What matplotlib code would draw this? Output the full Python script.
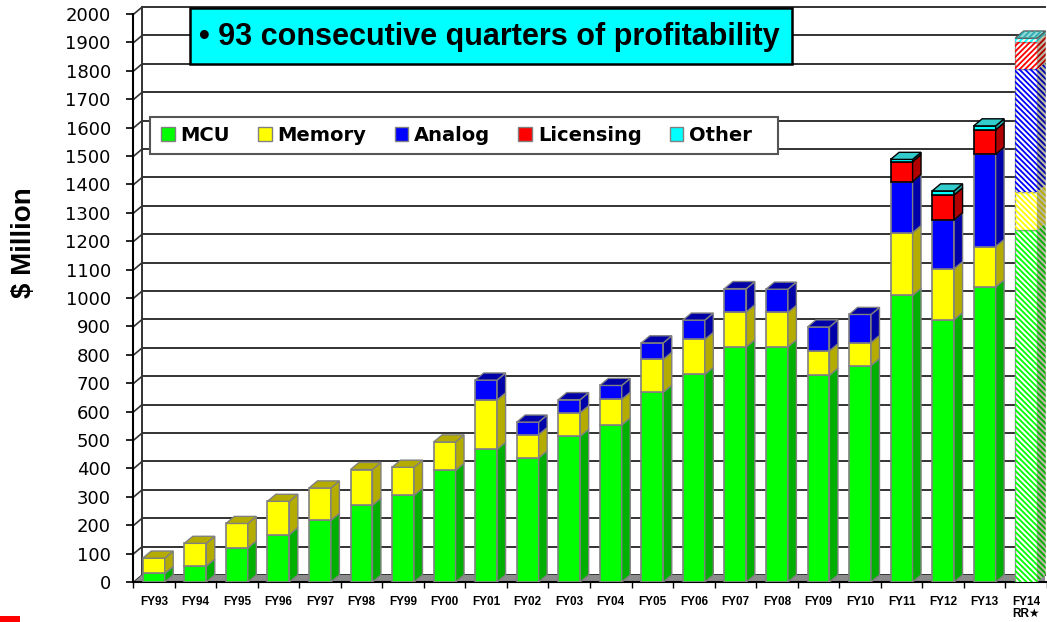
import matplotlib
matplotlib.use('Agg')
import matplotlib.pyplot as plt
from matplotlib.patches import Polygon, Rectangle, Patch

# fiscal years and revenue by product line ($M)
years = ['FY93', 'FY94', 'FY95', 'FY96', 'FY97', 'FY98', 'FY99', 'FY00', 'FY01', 'FY02', 'FY03',
         'FY04', 'FY05', 'FY06', 'FY07', 'FY08', 'FY09', 'FY10', 'FY11', 'FY12', 'FY13', 'FY14\nRR★']
mcu = [30, 56, 120, 167, 217, 270, 305, 393, 467, 437, 513,
       553, 668, 731, 828, 828, 728, 762, 1009, 924, 1039, 1239]
memory = [54, 80, 86, 117, 114, 126, 99, 100, 174, 82, 83,
          90, 116, 123, 123, 121, 86, 81, 221, 179, 142, 135]
analog = [0, 0, 0, 0, 0, 0, 0, 0, 70, 44, 46,
          49, 58, 68, 82, 82, 84, 99, 180, 172, 325, 431]
licensing = [0] * 18 + [70, 88, 86, 98]
other = [0] * 18 + [8, 14, 14, 12]

names = ['MCU', 'Memory', 'Analog', 'Licensing', 'Other']
fronts = ['#00FF00', '#FFFF00', '#0000FF', '#FF0000', '#00FFFF']
sides = ['#00B000', '#B4AC00', '#0000A8', '#B00000', '#22AAAA']
edges = ['#808080', '#808080', '#808080', '#000000', '#000000']
hatches = ['\\\\\\\\\\\\', '\\\\\\\\\\\\', '\\\\\\\\\\\\', '//////', '//////']  # FY14 (run rate) only

W, H = 1047, 622
fig = plt.figure(figsize=(W / 100, H / 100), dpi=100)
plt.rcParams['hatch.linewidth'] = 1.3


def fx(px):
    return px / W


def fy(py):
    return 1 - py / H


# front axis at x=133px, baseline at y=582px, 0.284 px per $M
ax = fig.add_axes([fx(133), fy(582), fx(W - 133), 582 / H])
x_left, x_right = -0.48, 21.455
ax.set_xlim(x_left, x_right)
ax.set_ylim(0, 582 / 0.284)

w = 0.528    # bar front width (categories)
dx = 0.204   # depth offset in x
dy = 25      # depth offset in y ($M)
n = len(years)

# back wall gridlines + side wall slants
for v in range(0, 2001, 100):
    ax.plot([x_left + dx, x_right], [v + dy, v + dy], color='#333333', lw=1.4, zorder=1)
    ax.plot([x_left, x_left + dx], [v, v + dy], color='#333333', lw=1.2, zorder=1)
ax.plot([x_left + dx, x_left + dx], [dy, 2000 + dy], color='#333333', lw=1.4, zorder=1)

# floor
ax.add_patch(Polygon([(x_left, 0), (x_right, 0), (x_right, dy), (x_left + dx, dy)],
                     closed=True, facecolor='#8c8c8c', edgecolor='none', zorder=1.5))

stack = [mcu, memory, analog, licensing, other]
for i in range(n):
    hatched = i == n - 1
    segs = [k for k in range(5) if stack[k][i] > 0]
    base = 0
    x0, x1 = i - w / 2, i + w / 2
    for j, k in enumerate(segs):
        v = stack[k][i]
        top = base + v
        side = [(x1, base), (x1 + dx, base + dy), (x1 + dx, top + dy), (x1, top)]
        if hatched:
            ax.bar(i, v, bottom=base, width=w, color='white', edgecolor='#999999', lw=1, zorder=3)
            ax.bar(i, v, bottom=base, width=w, color='none', edgecolor=fronts[k],
                   hatch=hatches[k], lw=0, zorder=3.1)
            ax.add_patch(Polygon(side, closed=True, facecolor='#b8b8a0', edgecolor=sides[k],
                                 hatch=hatches[k], lw=0, zorder=3))
        else:
            ax.bar(i, v, bottom=base, width=w, color=fronts[k], edgecolor=edges[k], lw=1.2, zorder=3)
            ax.add_patch(Polygon(side, closed=True, facecolor=sides[k], edgecolor=edges[k],
                                 lw=1.0, zorder=3))
        if j == len(segs) - 1:
            lid = [(x0, top), (x0 + dx, top + dy), (x1 + dx, top + dy), (x1, top)]
            tc = '#33CCCC' if k == 4 else sides[k]
            if hatched:
                ax.add_patch(Polygon(lid, closed=True, facecolor='#8fdcdc', edgecolor='#555555',
                                     lw=1.0, zorder=3.2))
                ax.add_patch(Polygon(lid, closed=True, facecolor='none', edgecolor='#33AAAA',
                                     hatch='//////', lw=0, zorder=3.3))
            else:
                ax.add_patch(Polygon(lid, closed=True, facecolor=tc, edgecolor=edges[k],
                                     lw=1.0, zorder=3.2))
        base = top

# axes
for s in ['top', 'right']:
    ax.spines[s].set_visible(False)
ax.spines['left'].set_bounds(0, 2000)
ax.spines['left'].set_linewidth(1.5)
ax.spines['bottom'].set_linewidth(1.5)
ax.spines['left'].set_zorder(4)
ax.spines['bottom'].set_zorder(2)

ax.set_yticks(range(0, 2001, 100))
ax.tick_params(axis='y', length=5, width=1.2, pad=11, labelsize=13)
for lab in ax.get_yticklabels():
    lab.set_family('DejaVu Sans')

ax.set_xticks(range(n))
ax.set_xticklabels(years, family=['Liberation Sans', 'DejaVu Sans'],
                   fontsize=8.5, fontweight='bold', linespacing=1.0, va='top')
ax.set_xticks([i + 0.5 for i in range(-1, n)], minor=True)
ax.tick_params(axis='x', which='major', length=0, pad=10)
ax.tick_params(axis='x', which='minor', length=4, width=1.0)

fig.text(fx(24), fy(243), '$ Million', rotation=90, ha='center', va='center',
         family='Liberation Sans', fontweight='bold', fontsize=20)

# title box
fig.add_artist(Rectangle((fx(190), fy(64)), fx(602), 56 / H, transform=fig.transFigure,
                         facecolor='#00FFFF', edgecolor='black', lw=1.8, zorder=2))
fig.text(fx(199), fy(37), '• 93 consecutive quarters of profitability', ha='left', va='center',
         family='Liberation Sans', fontweight='bold', fontsize=22, zorder=3)

# legend box
fig.add_artist(Rectangle((fx(150), fy(154)), fx(628), 37 / H, transform=fig.transFigure,
                         facecolor='white', edgecolor='#555555', lw=1.5, zorder=2))
handles = [Patch(facecolor=c, edgecolor='#808080', lw=1) for c in fronts]
leg = fig.legend(handles, names, loc='center left', bbox_to_anchor=(fx(161), fy(135.5)),
                 ncol=5, frameon=False, prop={'family': 'DejaVu Sans', 'weight': 'bold', 'size': 14},
                 handlelength=0.7, handleheight=0.7, handletextpad=0.3, columnspacing=1.45,
                 borderpad=0, borderaxespad=0)
leg.set_zorder(5)

fig.add_artist(Rectangle((0, 0), fx(20), 6 / H, transform=fig.transFigure,
                         facecolor='#FF0000', edgecolor='none', zorder=2))

fig.savefig('out.png', dpi=100)
